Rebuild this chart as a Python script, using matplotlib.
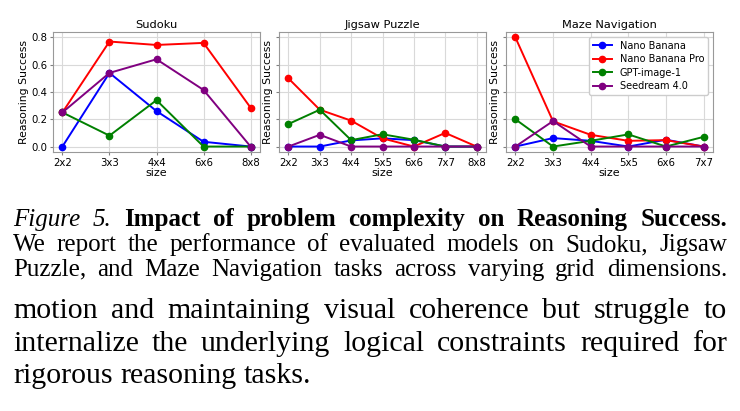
import matplotlib
matplotlib.use("Agg")
import matplotlib.pyplot as plt

models = ["Nano Banana", "Nano Banana Pro", "GPT-image-1", "Seedream 4.0"]
colors = ["blue", "red", "green", "purple"]

sudoku_sizes = ["2x2", "3x3", "4x4", "6x6", "8x8"]
sudoku_nb = [0.0, 0.54, 0.26, 0.035, 0.0]
sudoku_pro = [0.25, 0.77, 0.745, 0.76, 0.285]
sudoku_gpt = [0.25, 0.08, 0.34, 0.0, 0.0]
sudoku_sd = [0.25, 0.54, 0.64, 0.415, 0.0]

jigsaw_sizes = ["2x2", "3x3", "4x4", "5x5", "6x6", "7x7", "8x8"]
jigsaw_nb = [0.0, 0.0, 0.045, 0.06, 0.047, 0.0, 0.0]
jigsaw_pro = [0.5, 0.27, 0.19, 0.06, 0.0, 0.1, 0.0]
jigsaw_gpt = [0.165, 0.27, 0.047, 0.09, 0.05, 0.0, 0.0]
jigsaw_sd = [0.0, 0.086, 0.0, 0.0, 0.0, 0.0, 0.0]

maze_sizes = ["2x2", "3x3", "4x4", "5x5", "6x6", "7x7"]
maze_nb = [0.0, 0.062, 0.042, 0.0, 0.05, 0.0]
maze_pro = [0.8, 0.185, 0.086, 0.042, 0.047, 0.0]
maze_gpt = [0.2, 0.0, 0.042, 0.089, 0.0, 0.071]
maze_sd = [0.0, 0.187, 0.0, 0.0, 0.0, 0.0]

panels = [
    ("Sudoku", sudoku_sizes, [sudoku_nb, sudoku_pro, sudoku_gpt, sudoku_sd]),
    ("Jigsaw Puzzle", jigsaw_sizes, [jigsaw_nb, jigsaw_pro, jigsaw_gpt, jigsaw_sd]),
    ("Maze Navigation", maze_sizes, [maze_nb, maze_pro, maze_gpt, maze_sd]),
]

caption_head = [("Figure", "italic", "normal"), ("5.", "italic", "normal")] + \
    [(w, "normal", "bold") for w in "Impact of problem complexity on Reasoning Success.".split()]
caption_lines = [
    "We report the performance of evaluated models on Sudoku, Jigsaw",
    "Puzzle, and Maze Navigation tasks across varying grid dimensions.",
]
body_lines = [
    "motion and maintaining visual coherence but struggle to",
    "internalize the underlying logical constraints required for",
    "rigorous reasoning tasks.",
]

W, H = 740, 411
fig = plt.figure(figsize=(W / 100, H / 100), dpi=100)

lefts = [53, 279, 506]
axes = []
for i, (title, sizes, series) in enumerate(panels):
    ax = fig.add_axes([lefts[i] / W, 1 - 152 / H, 207 / W, 120 / H],
                      sharey=axes[0] if axes else None)
    for vals, name, c in zip(series, models, colors):
        ax.plot(sizes, vals, marker="o", color=c, label=name, lw=1.4, ms=4.5)
    ax.set_title(title, fontsize=8.2, pad=3)
    ax.set_xlabel("size", fontsize=8, labelpad=0)
    ax.set_ylabel("Reasoning Success", fontsize=7.8, labelpad=2)
    ax.grid(True, color="0.85", lw=0.8)
    ax.tick_params(labelsize=7.3, length=2, pad=2, color="0.5")
    for s in ax.spines.values():
        s.set_color("0.6")
    if i > 0:
        ax.tick_params(labelleft=False)
    axes.append(ax)

axes[0].set_yticks([0.0, 0.2, 0.4, 0.6, 0.8])
axes[2].legend(fontsize=7, loc="upper right", framealpha=1, edgecolor="0.8",
               handlelength=2, borderpad=0.4, labelspacing=0.35)

fig.canvas.draw()
renderer = fig.canvas.get_renderer()
x0, x1 = 13, 727


def put_line(words, y, size, justify=True):
    texts = []
    for w, style, weight in words:
        t = fig.text(0, 1 - y / H, w, family="Liberation Serif", fontsize=size,
                     style=style, weight=weight, va="baseline")
        texts.append(t)
    widths = [t.get_window_extent(renderer).width for t in texts]
    if justify and len(texts) > 1:
        gap = (x1 - x0 - sum(widths)) / (len(texts) - 1)
    else:
        gap = size * 100 / 72 * 0.25
    x = x0
    for t, wd in zip(texts, widths):
        t.set_x(x / W)
        x += wd + gap


put_line(caption_head, 226, 18)
for k, line in enumerate(caption_lines):
    put_line([(w, "normal", "normal") for w in line.split()], 251 + 24.5 * k, 18)
for k, line in enumerate(body_lines):
    put_line([(w, "normal", "normal") for w in line.split()], 318 + 32.5 * k, 21.5,
             justify=k < 2)

fig.savefig("out.png", dpi=100)
